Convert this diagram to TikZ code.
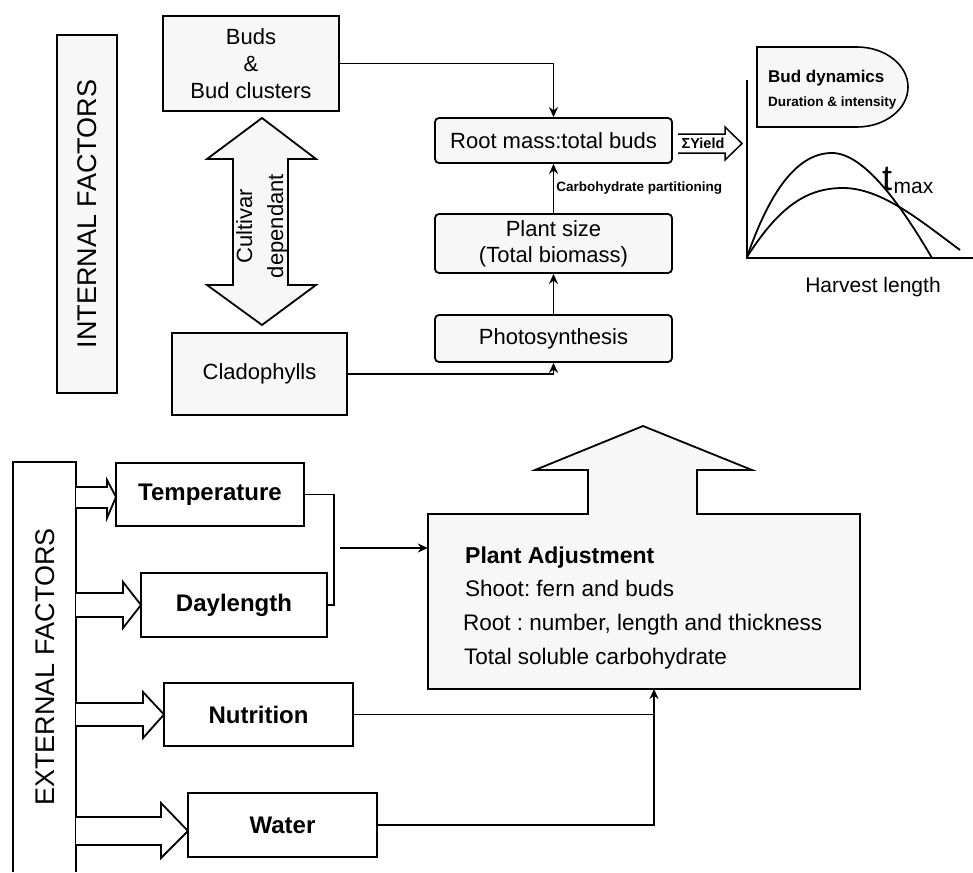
\documentclass[tikz,border=0pt]{standalone}
\usepackage{fontspec}
\setmainfont{Liberation Sans}
\usetikzlibrary{arrows.meta}
\frenchspacing
\begin{document}
\begin{tikzpicture}[x=1pt,y=-1pt,
  box/.style={draw, line width=1.8pt, fill=black!3, inner sep=0pt, align=center},
  plainbox/.style={draw, line width=1.8pt, fill=white, inner sep=0pt, align=center},
  rbox/.style={box, rounded corners=4pt},
  shapeline/.style={draw, line width=1.8pt, line join=miter},
  conn/.style={line width=1.8pt},
  arr/.style={conn, -{Stealth[length=10pt,width=9pt]}},
  midtext/.style={font=\fontsize{22}{26}\selectfont},
  factor/.style={font=\bfseries\fontsize{24}{28}\selectfont},
  sidetext/.style={font=\fontsize{27}{32}\selectfont}
]
\useasboundingbox (0,0) rectangle (973,872);

% ---------- internal factors ----------
\node[box, rotate=90, minimum width=358pt, minimum height=60pt, sidetext] (intf) at (87,214) {INTERNAL FACTORS};

\node[box, minimum width=176pt, minimum height=95pt, font=\fontsize{22}{27}\selectfont] (buds) at (251,63.5) {Buds\\\&\\Bud clusters};
\node[box, minimum width=175pt, minimum height=82pt, midtext] (clad) at (259.5,374) {Cladophylls};

% two-headed arrow between buds and cladophylls
\draw[shapeline, fill=black!3] (262,118) -- (316,159) -- (288,159) -- (288,285) -- (316,285)
  -- (262,325) -- (207,285) -- (233,285) -- (233,159) -- (207,159) -- cycle;
\node[rotate=90, align=center, font=\fontsize{22}{31}\selectfont] (cult) at (262,226) {Cultivar\\dependant};

% central chain
\node[rbox, minimum width=237pt, minimum height=45pt, midtext] (root) at (553.5,140.5) {Root mass:total buds};
\node[rbox, minimum width=237pt, minimum height=59pt, midtext] (size) at (553.5,243.5) {Plant size\\(Total biomass)};
\node[rbox, minimum width=237pt, minimum height=47pt, midtext] (photo) at (553.5,338.5) {Photosynthesis};

\draw[arr] (buds.east) -| (root.north);
\draw[arr] (clad.east) -| (photo.south);
\draw[arr] (photo.north) -- (size.south);
\draw[arr] (size.north) -- (root.south)
  node[midway, right, inner sep=2pt, font=\bfseries\fontsize{13.5}{16}\selectfont] (carb) {Carbohydrate partitioning};

% yield arrow
\draw[shapeline, line width=1.5pt, fill=white] (678,134) -- (725,134) -- (725,127) -- (742,143.5)
  -- (725,160) -- (725,153) -- (678,153);
\node[font=\bfseries\fontsize{14.5}{16}\selectfont, inner sep=0pt] (yield) at (703,143.5) {ΣYield};

% bud dynamics graph
\draw[shapeline, line width=1.6pt, fill=black!3] (857,47) -- (757,47) -- (757,127) -- (857,127)
  arc[start angle=90, end angle=-90, x radius=51, y radius=40] -- cycle;
\node[anchor=west, inner sep=0pt, font=\bfseries\fontsize{17}{20}\selectfont] (bd1) at (768,78) {Bud dynamics};
\node[anchor=west, inner sep=0pt, font=\bfseries\fontsize{13.5}{16}\selectfont] (bd2) at (768,103) {Duration \& intensity};

\coordinate (ytop) at (747,80);
\coordinate (orig) at (747,258);
\coordinate (xend) at (973,258);
\draw[conn] (ytop) -- (orig) -- (xend);
\draw[conn] (747,257) .. controls (772,185) and (800,153) .. (832,153)
  .. controls (866,153) and (905,212) .. (932,258);
\draw[conn] (747,257) .. controls (780,205) and (808,188) .. (843,188)
  .. controls (882,188) and (922,222) .. (960,250);
\node[anchor=base west, inner sep=0pt, font=\fontsize{36}{36}\selectfont] (tm) at (882,190) {t};
\node[anchor=base west, inner sep=0pt, font=\fontsize{21}{21}\selectfont] (tsub) at ([xshift=1pt, yshift=-3pt]tm.base east) {max};
\node[font=\fontsize{21}{24}\selectfont] (harv) at (873,287) {Harvest length};

% ---------- external factors ----------
\draw[shapeline] (13,872) -- (13,462) -- (76,462) -- (76,872);
\node[rotate=90, sidetext] (extf) at (45,667) {EXTERNAL FACTORS};

\node[plainbox, minimum width=188pt, minimum height=63pt, factor] (temp) at (210,494.5) {Temperature};
\node[plainbox, minimum width=186pt, minimum height=64pt, factor] (day) at (234,605) {Daylength};
\node[plainbox, minimum width=189pt, minimum height=63pt, factor] (nut) at (258.5,714.5) {Nutrition};
\node[plainbox, minimum width=189pt, minimum height=64pt, factor] (water) at (282.5,825) {Water};

% hollow arrows from the factor bar
\draw[shapeline, fill=white] (76,487) -- (107,487) -- (107,480) -- (116,497) -- (107,518) -- (107,508) -- (76,508);
\draw[shapeline, fill=white] (76,593) -- (123,593) -- (123,582) -- (141,605) -- (123,628) -- (123,617) -- (76,617);
\draw[shapeline, fill=white] (76,703) -- (143,703) -- (143,692) -- (164,714.5) -- (143,738) -- (143,726) -- (76,726);
\draw[shapeline, fill=white] (76,817) -- (161,817) -- (161,803) -- (188,831) -- (161,858) -- (161,845) -- (76,845);

% plant adjustment box with upward arrow
\draw[shapeline, fill=black!3] (428,514) -- (588,514) -- (588,470) -- (535,470) -- (643,426) -- (752,470)
  -- (697,470) -- (697,514) -- (860,514) -- (860,689) -- (428,689) -- cycle;
\node[minimum width=432pt, minimum height=175pt, inner sep=0pt] (adj) at (644,601.5) {};
\node[anchor=base west, inner sep=0pt, font=\bfseries\fontsize{23}{26}\selectfont] (adjt) at (465,563) {Plant Adjustment};
\node[anchor=base west, inner sep=0pt, font=\fontsize{22.5}{26}\selectfont] (adj1) at (465,596.5) {Shoot: fern and buds};
\node[anchor=base west, inner sep=0pt, font=\fontsize{22.5}{26}\selectfont] (adj2) at (463,630) {Root : number, length and thickness};
\node[anchor=base west, inner sep=0pt, font=\fontsize{22.5}{26}\selectfont] (adj3) at (464,664) {Total soluble carbohydrate};

% connectors into plant adjustment
\draw[conn] (temp.east) -- ++(29,0) |- (day.east);
\coordinate (merge) at (340,548);
\draw[arr, line width=2.2pt] (merge) -- (merge -| adj.west);
\coordinate (adjin) at (654,689);
\draw[conn] (nut.east) -- (nut.east -| adjin);
\draw[arr] (water.east) -| (adjin);
\end{tikzpicture}
\end{document}
